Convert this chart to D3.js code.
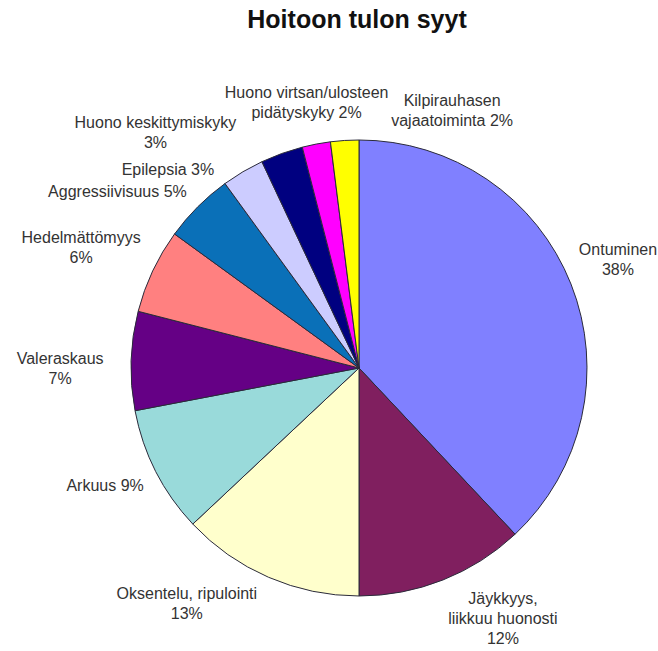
<!DOCTYPE html>
<html>
<head>
<meta charset="utf-8">
<script src="https://cdn.jsdelivr.net/npm/d3@7"></script>
<style>
  html, body { margin: 0; padding: 0; background: #fff; }
  svg { display: block; }
</style>
</head>
<body>
<script>
// ---- data ----
const categories = [
  "Ontuminen",
  "Jäykkyys, liikkuu huonosti",
  "Oksentelu, ripulointi",
  "Arkuus",
  "Valeraskaus",
  "Hedelmättömyys",
  "Aggressiivisuus",
  "Epilepsia",
  "Huono keskittymiskyky",
  "Huono virtsan/ulosteen pidätyskyky",
  "Kilpirauhasen vajaatoiminta"
];
const values = [38, 12, 13, 9, 7, 6, 5, 3, 3, 2, 2];
const labelLines = [
  ["Ontuminen", "38%"],
  ["Jäykkyys,", "liikkuu huonosti", "12%"],
  ["Oksentelu, ripulointi", "13%"],
  ["Arkuus 9%"],
  ["Valeraskaus", "7%"],
  ["Hedelmättömyys", "6%"],
  ["Aggressiivisuus 5%"],
  ["Epilepsia 3%"],
  ["Huono keskittymiskyky", "3%"],
  ["Huono virtsan/ulosteen", "pidätyskyky 2%"],
  ["Kilpirauhasen", "vajaatoiminta 2%"]
];
const colors = ["#8080FF", "#801F5F", "#FFFFCC", "#99DADA", "#650085", "#FF8080",
                "#0A70B8", "#CCCCFF", "#000080", "#FF00FF", "#FFFF00"];
const title = "Hoitoon tulon syyt";

// ---- layout (label nudges from default polar position) ----
const labelNudge = [[-6,-4],[39,-14],[-59,-26],[0,-12],[-14,9],[-20,1],[-40,25],[-46,47],[-107,33],[1,14],[111,27]];

const W = 658, H = 651;
const cx = 359, cy = 368, R = 228, LR = 285;

const svg = d3.select("body").append("svg").attr("width", W).attr("height", H);

svg.append("text")
  .attr("x", 357).attr("y", 28)
  .attr("text-anchor", "middle")
  .attr("font-family", "Liberation Sans, Arial, sans-serif")
  .attr("font-weight", "bold")
  .attr("font-size", 25)
  .attr("fill", "#111")
  .text(title);

const data = categories.map((c, i) => ({ name: c, value: values[i], i }));
const pie = d3.pie().value(d => d.value).sort(null);
const arcs = pie(data);
const arc = d3.arc().innerRadius(0).outerRadius(R);

const g = svg.append("g").attr("transform", `translate(${cx},${cy})`);
g.selectAll("path").data(arcs).join("path")
  .attr("d", arc)
  .attr("fill", d => colors[d.data.i])
  .attr("stroke", "#2a2a3a")
  .attr("stroke-width", 1);

const lineH = 20;
const fontSize = 16;
arcs.forEach(a => {
  const mid = (a.startAngle + a.endAngle) / 2;
  const nx = labelNudge[a.data.i];
  const x = LR * Math.sin(mid) + nx[0];
  const y = -LR * Math.cos(mid) + nx[1];
  const lines = labelLines[a.data.i];
  const t = g.append("text")
    .attr("text-anchor", "middle")
    .attr("font-family", "Liberation Sans, Arial, sans-serif")
    .attr("font-size", fontSize)
    .attr("fill", "#333");
  lines.forEach((ln, k) => {
    t.append("tspan")
      .attr("x", x)
      .attr("y", y + (k - (lines.length - 1) / 2) * lineH)
      .attr("dominant-baseline", "central")
      .text(ln);
  });
});
</script>
</body>
</html>
